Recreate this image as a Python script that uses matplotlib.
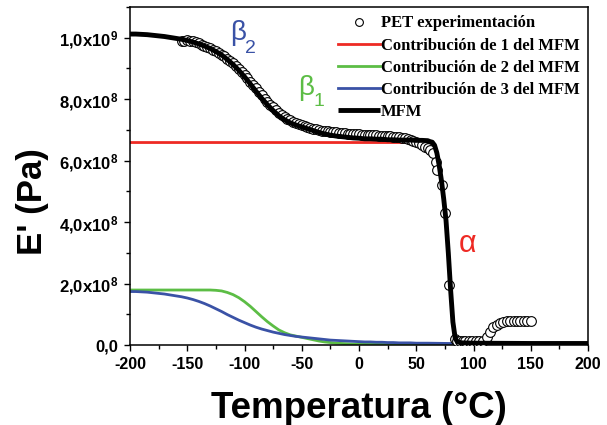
import numpy as np
import matplotlib
matplotlib.use("Agg")
from matplotlib import pyplot as plt
from matplotlib.ticker import MultipleLocator

plt.rcParams["font.family"] = ["Liberation Sans", "DejaVu Sans"]
plt.rcParams["mathtext.default"] = "regular"
plt.rcParams["axes.unicode_minus"] = False

# experimental data (E' in units of 1e9 Pa)
t_exp = np.arange(-155, 61, 2.5)
e_exp = [0.990, 0.990, 0.992, 0.990, 0.988, 0.985, 0.982, 0.978, 0.974, 0.970,
         0.966, 0.961, 0.956, 0.951, 0.945, 0.939, 0.932, 0.925, 0.917, 0.908,
         0.899, 0.889, 0.879, 0.868, 0.857, 0.846, 0.835, 0.824, 0.813, 0.802,
         0.792, 0.782, 0.773, 0.764, 0.756, 0.749, 0.742, 0.736, 0.731, 0.726,
         0.722, 0.718, 0.715, 0.712, 0.709, 0.706, 0.704, 0.702, 0.700, 0.698,
         0.697, 0.695, 0.694, 0.693, 0.692, 0.691, 0.690, 0.689, 0.688, 0.688,
         0.687, 0.686, 0.686, 0.685, 0.684, 0.684, 0.683, 0.683, 0.682, 0.681,
         0.681, 0.680, 0.679, 0.679, 0.678, 0.677, 0.676, 0.675, 0.673, 0.671,
         0.668, 0.664, 0.660, 0.656, 0.651, 0.646, 0.640]
t_exp2 = [62.0, 64.6, 67.2, 68.4, 72.2, 75.1, 78.9, 84.0, 86, 88, 91, 93, 96, 99,
          102, 105, 108, 111.5, 114.4, 117.3, 120.2, 123, 126, 129, 132, 135,
          138, 141, 144, 147, 150]
e_exp2 = [0.635, 0.625, 0.597, 0.570, 0.521, 0.430, 0.195, 0.018, 0.013, 0.013,
          0.013, 0.013, 0.013, 0.013, 0.013, 0.014, 0.014, 0.026, 0.043, 0.058,
          0.065, 0.073, 0.076, 0.077, 0.078, 0.078, 0.078, 0.078, 0.078, 0.078,
          0.078]

# contribution 1 (alpha)
t_c1 = [-200, 50, 55, 60, 62, 64, 66, 68, 70, 72, 74, 76, 78, 80, 82, 84, 86, 90, 200]
e_c1 = [0.659, 0.659, 0.659, 0.659, 0.656, 0.653, 0.643, 0.618, 0.578, 0.528,
        0.468, 0.398, 0.293, 0.173, 0.068, 0.015, 0.004, 0.001, 0.0]

# contributions 2 and 3 (beta1, beta2)
t_c23 = list(range(-200, 61, 5)) + [80, 100, 150, 200]
e_c2 = [0.179, 0.179, 0.179, 0.179, 0.179, 0.179, 0.179, 0.179, 0.179, 0.179,
        0.179, 0.179, 0.179, 0.179, 0.179, 0.178, 0.176, 0.171, 0.164, 0.154,
        0.141, 0.126, 0.109, 0.092, 0.076, 0.062, 0.049, 0.040, 0.033, 0.029,
        0.025, 0.021, 0.017, 0.013, 0.010, 0.008, 0.006, 0.005, 0.004, 0.003,
        0.003, 0.002, 0.002, 0.002, 0.002, 0.001, 0.001, 0.001, 0.001, 0.001,
        0.001, 0.001, 0.001, 0.001, 0.001, 0.001, 0.001]
e_c3 = [0.174, 0.174, 0.173, 0.172, 0.170, 0.168, 0.166, 0.163, 0.160, 0.157,
        0.153, 0.148, 0.142, 0.135, 0.127, 0.118, 0.109, 0.099, 0.090, 0.081,
        0.073, 0.065, 0.058, 0.052, 0.047, 0.042, 0.038, 0.034, 0.031, 0.028,
        0.026, 0.024, 0.022, 0.020, 0.018, 0.016, 0.015, 0.014, 0.013, 0.012,
        0.011, 0.010, 0.010, 0.009, 0.009, 0.008, 0.008, 0.007, 0.007, 0.007,
        0.006, 0.006, 0.006, 0.005, 0.005, 0.005, 0.004]

# MFM (sum of the three contributions)
t_mfm = list(range(-200, 61, 5)) + [62, 64, 66, 68, 70, 72, 74, 76, 78, 80, 82,
                                    84, 86, 90, 100, 150, 200]
e_mfm = [1.012, 1.012, 1.011, 1.010, 1.008, 1.006, 1.004, 1.001, 0.998, 0.995,
         0.991, 0.986, 0.980, 0.973, 0.965, 0.955, 0.944, 0.929, 0.913, 0.894,
         0.873, 0.850, 0.826, 0.803, 0.782, 0.763, 0.746, 0.733, 0.723, 0.716,
         0.710, 0.704, 0.698, 0.692, 0.687, 0.683, 0.680, 0.678, 0.676, 0.674,
         0.673, 0.671, 0.671, 0.670, 0.670, 0.668, 0.668, 0.667, 0.667, 0.667,
         0.666, 0.666, 0.665, 0.662, 0.660, 0.650, 0.625, 0.585, 0.535, 0.475,
         0.405, 0.300, 0.180, 0.075, 0.022, 0.010, 0.007, 0.006, 0.005, 0.005]

yticks = [0, 0.2e9, 0.4e9, 0.6e9, 0.8e9, 1.0e9]
ytick_labels = ["0,0", "2,0x10$^{8}$", "4,0x10$^{8}$", "6,0x10$^{8}$",
                "8,0x10$^{8}$", "1,0x10$^{9}$"]

fig = plt.figure(figsize=(6.07, 4.25), dpi=100)
ax = fig.add_axes([0.2142, 0.1882, 0.7545, 0.7953])

sc = 1e9
ax.plot(t_c1, np.array(e_c1) * sc, color="#ee2a24", lw=2.0, zorder=2,
        label="Contribución de 1 del MFM")
ax.plot(t_c23, np.array(e_c2) * sc, color="#5cbd45", lw=2.0, zorder=2,
        label="Contribución de 2 del MFM")
ax.plot(t_c23, np.array(e_c3) * sc, color="#3a52a6", lw=2.0, zorder=2,
        label="Contribución de 3 del MFM")
ax.plot(list(t_exp) + t_exp2, np.array(e_exp + e_exp2) * sc, "o", ms=7,
        mfc="white", mec="black", mew=0.8, zorder=3, label="PET experimentación")
ax.plot(t_mfm, np.array(e_mfm) * sc, color="black", lw=3.5, zorder=4,
        solid_capstyle="butt", label="MFM")

ax.set_xlim(-200, 200)
ax.set_ylim(0, 1.1e9)
ax.xaxis.set_major_locator(MultipleLocator(50))
ax.xaxis.set_minor_locator(MultipleLocator(25))
ax.set_yticks(yticks)
ax.set_yticklabels(ytick_labels)
ax.yaxis.set_minor_locator(MultipleLocator(1e8))
ax.tick_params(which="major", direction="out", length=4.5, width=1, pad=4)
ax.tick_params(axis="x", which="major", labelsize=11.5)
ax.tick_params(axis="y", which="major", labelsize=12)
ax.tick_params(which="minor", direction="out", length=3, width=1)
for lab in ax.get_xticklabels() + ax.get_yticklabels():
    lab.set_fontweight("bold")
for s in ax.spines.values():
    s.set_linewidth(1.1)

ax.set_xlabel("Temperatura (°C)", fontsize=26.5, fontweight="bold", va="top")
ax.xaxis.set_label_coords(0.5, -0.136)
ax.set_ylabel("E' (Pa)", fontsize=25, fontweight="bold", va="center")
ax.yaxis.set_label_coords(-0.212, 0.423)

# greek labels
ax.text(-105.7, 1.017e9, "β", color="#3a52a6", fontsize=20, ha="center", va="center")
ax.text(-95.2, 0.965e9, "2", color="#3a52a6", fontsize=14, ha="center", va="center")
ax.text(-46.3, 0.838e9, "β", color="#5cbd45", fontsize=20, ha="center", va="center")
ax.text(-35.4, 0.793e9, "1", color="#5cbd45", fontsize=14, ha="center", va="center")
ax.text(95.2, 0.3275e9, "α", color="#ee2a24", fontsize=22, ha="center", va="center")

h, l = ax.get_legend_handles_labels()
order = [3, 0, 1, 2, 4]
ax.legend([h[i] for i in order], [l[i] for i in order], loc="upper right",
          bbox_to_anchor=(1.0, 1.0), frameon=False, handlelength=2.5,
          handletextpad=0.05, labelspacing=0.37, borderaxespad=0.1,
          prop={"family": "Liberation Serif", "weight": "bold", "size": 12},
          markerscale=0.8)

fig.savefig("out.png", dpi=100)
